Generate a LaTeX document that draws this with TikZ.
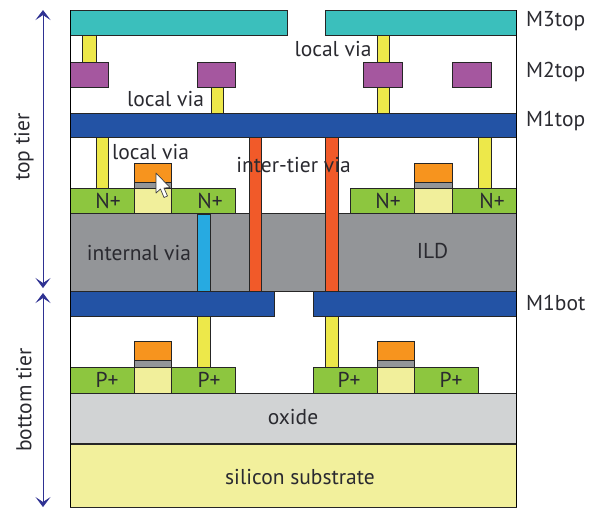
\documentclass[tikz,border=0pt]{standalone}
\usepackage{fontspec}
\setmainfont{PT Sans}
\usetikzlibrary{arrows.meta}
\definecolor{mthree}{HTML}{3BBFBC}
\definecolor{mtwo}{HTML}{A5579F}
\definecolor{mone}{HTML}{2353A5}
\definecolor{lvia}{HTML}{EDE84A}
\definecolor{tvia}{HTML}{F15A29}
\definecolor{ivia}{HTML}{27AAE1}
\definecolor{dope}{HTML}{8DC63F}
\definecolor{chan}{HTML}{F1EF9B}
\definecolor{gatec}{HTML}{F7941E}
\definecolor{ild}{HTML}{939598}
\definecolor{oxidec}{HTML}{D1D3D4}
\definecolor{subs}{HTML}{F2F09C}
\definecolor{arrowc}{HTML}{2E3192}
\definecolor{labelc}{HTML}{2A2A30}
\tikzset{
  layer/.style={draw=black!85,line width=0.9pt},
  lbl/.style={text=labelc,font=\fontsize{21.5}{24}\selectfont,inner sep=0pt},
  dim/.style={draw=arrowc,line width=0.8pt,{Stealth[length=10pt,width=15pt,inset=5pt]}-{Stealth[length=10pt,width=15pt,inset=5pt]}}
}
\newcommand{\bx}[5]{\path[layer,fill=#1] (#2,#3) rectangle (#4,#5);}
\begin{document}
\begin{tikzpicture}[x=1pt,y=-1pt]
\useasboundingbox (0,0) rectangle (591,507);
% substrate stack
\bx{subs}{70.5}{444}{516.5}{507}
\bx{oxidec}{70.5}{393.5}{516.5}{443.5}
\bx{ild}{70.5}{213.5}{516.5}{291}
% vias
\bx{lvia}{82.5}{35}{96}{62}
\bx{lvia}{377}{35}{389}{113}
\bx{lvia}{211}{87.5}{223.5}{113}
\bx{lvia}{96}{137.5}{108}{188.5}
\bx{lvia}{478}{137.5}{491}{188.5}
\bx{lvia}{197}{316}{210}{367}
\bx{lvia}{325}{316}{338}{367}
\bx{ivia}{197}{214}{210}{291}
\bx{tvia}{249}{137.5}{261}{291}
\bx{tvia}{325}{137.5}{338}{291}
% metal
\bx{mthree}{70.5}{10}{287.5}{35}
\bx{mthree}{325}{10}{516.5}{35}
\bx{mtwo}{70.5}{62}{108}{87.5}
\bx{mtwo}{197}{62}{235.5}{87.5}
\bx{mtwo}{363}{62}{402}{87.5}
\bx{mtwo}{452}{62}{491}{87.5}
\bx{mone}{70.5}{113}{516.5}{137.5}
\bx{mone}{70.5}{291}{274}{316}
\bx{mone}{313}{291}{516.5}{316}
% top-tier transistors
\bx{dope}{70.5}{188.5}{134.5}{213.5}
\bx{dope}{171.5}{188.5}{235.5}{213.5}
\bx{dope}{350.5}{188.5}{414}{213.5}
\bx{dope}{452}{188.5}{516.5}{213.5}
\bx{chan}{134.5}{188.5}{171.5}{213.5}
\bx{ild}{134.5}{182}{171.5}{188.5}
\bx{gatec}{134.5}{163}{171.5}{182}
\bx{chan}{414}{188.5}{452}{213.5}
\bx{ild}{414}{182}{452}{188.5}
\bx{gatec}{414}{163}{452}{182}
% bottom-tier transistors
\bx{dope}{70.5}{367}{134.5}{393.5}
\bx{dope}{171.5}{367}{235.5}{393.5}
\bx{dope}{313}{367}{377}{393.5}
\bx{dope}{414}{367}{478}{393.5}
\bx{chan}{134.5}{367}{171.5}{393.5}
\bx{ild}{134.5}{360}{171.5}{367}
\bx{gatec}{134.5}{341.5}{171.5}{360}
\bx{chan}{377}{367}{414}{393.5}
\bx{ild}{377}{360}{414}{367}
\bx{gatec}{377}{341.5}{414}{360}
% frame
\draw[black,line width=1pt] (70.5,10)--(70.5,507) (516.5,10)--(516.5,507);
% tier arrows
\coordinate (toptip) at (43,10);
\coordinate (midup) at (43,288);
\coordinate (middown) at (43,293);
\coordinate (bottip) at (43,507);
\draw[dim] (toptip) -- (midup);
\draw[dim] (middown) -- (bottip);
% cursor
\path[fill=white,draw=black!75,line width=0.7pt,line join=round] (156,173)--(156,193)--(160.5,189)--(164,197.5)--(167.5,196)--(164,188)--(170,187.5)--cycle;
% labels
\node[lbl] (lv1) at (333,49) {local via};
\node[lbl] (lv2) at (165.5,99) {local via};
\node[lbl] (lv3) at (150.5,152) {local via};
\node[lbl] (itv) at (293.5,165) {inter-tier via};
\node[lbl] (iv) at (139,253) {internal via};
\node[lbl] (ildl) at (432.5,251) {ILD};
\node[lbl] (n1) at (108,201) {N+};
\node[lbl] (n2) at (210,201) {N+};
\node[lbl] (n3) at (388,201) {N+};
\node[lbl] (n4) at (492,201) {N+};
\node[lbl] (p1) at (107,380) {P+};
\node[lbl] (p2) at (209,380) {P+};
\node[lbl] (p3) at (349,380) {P+};
\node[lbl] (p4) at (451,380) {P+};
\node[lbl] (ox) at (293,417) {oxide};
\node[lbl] (si) at (300,477) {silicon substrate};
\node[lbl,anchor=west] (m3) at (526,21) {M3top};
\node[lbl,anchor=west] (m2) at (526,72) {M2top};
\node[lbl,anchor=west] (m1) at (526,121) {M1top};
\node[lbl,anchor=west] (mb) at (526,303) {M1bot};
\node[lbl,rotate=90] (tt) at (24,147) {top tier};
\node[lbl,rotate=90] (bt) at (24,400) {bottom tier};
\end{tikzpicture}
\end{document}
